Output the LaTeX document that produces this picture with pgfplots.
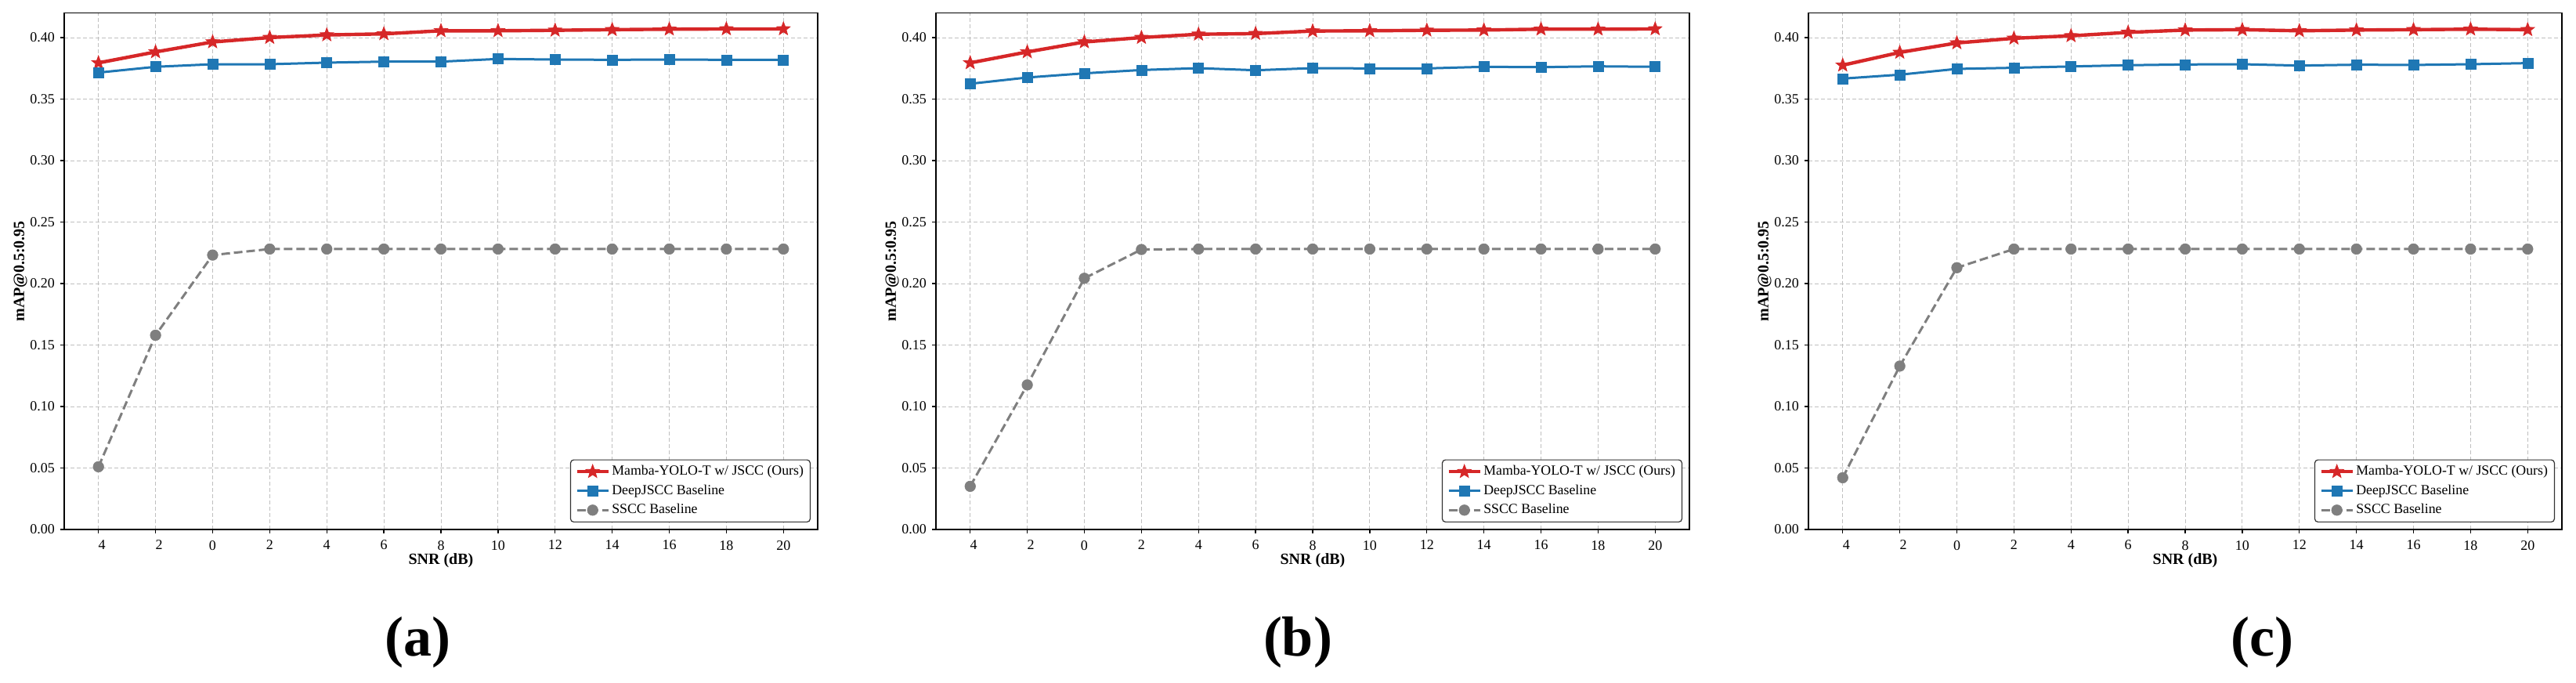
\documentclass[border=0pt]{standalone}
\usepackage{fontspec}
\setmainfont{Liberation Serif}
\usepackage{pgfplots}
\pgfplotsset{compat=1.18}
\usepackage{pgfplotstable}
\usetikzlibrary{plotmarks}

\definecolor{cred}{HTML}{D62728}
\definecolor{cblue}{HTML}{1F77B4}
\definecolor{cgray}{HTML}{7F7F7F}

\pgfdeclareplotmark{fstar}{%
  \pgfpathmoveto{\pgfpointpolar{90}{\pgfplotmarksize}}%
  \pgfpathlineto{\pgfpointpolar{126}{0.42\pgfplotmarksize}}%
  \pgfpathlineto{\pgfpointpolar{162}{\pgfplotmarksize}}%
  \pgfpathlineto{\pgfpointpolar{198}{0.42\pgfplotmarksize}}%
  \pgfpathlineto{\pgfpointpolar{234}{\pgfplotmarksize}}%
  \pgfpathlineto{\pgfpointpolar{270}{0.42\pgfplotmarksize}}%
  \pgfpathlineto{\pgfpointpolar{306}{\pgfplotmarksize}}%
  \pgfpathlineto{\pgfpointpolar{342}{0.42\pgfplotmarksize}}%
  \pgfpathlineto{\pgfpointpolar{18}{\pgfplotmarksize}}%
  \pgfpathlineto{\pgfpointpolar{54}{0.42\pgfplotmarksize}}%
  \pgfpathclose
  \pgfusepathqfillstroke}

\pgfplotstableread{
x red blue gray
-4 0.3795 0.3716 0.051
-2 0.3884 0.3763 0.158
0 0.3965 0.3784 0.2232
2 0.4001 0.3784 0.2281
4 0.4022 0.3797 0.2281
6 0.4031 0.3805 0.2281
8 0.4056 0.3805 0.2281
10 0.4056 0.3827 0.2281
12 0.4060 0.3822 0.2281
14 0.4065 0.3820 0.2281
16 0.4069 0.3822 0.2281
18 0.4071 0.3820 0.2281
20 0.4071 0.3820 0.2281
}\dataA

\pgfplotstableread{
x red blue gray
-4 0.3795 0.3625 0.0351
-2 0.3884 0.3676 0.1176
0 0.3965 0.3710 0.2043
2 0.4001 0.3737 0.2277
4 0.4028 0.3752 0.2281
6 0.4033 0.3735 0.2281
8 0.4054 0.3752 0.2281
10 0.4056 0.3750 0.2281
12 0.4060 0.3750 0.2281
14 0.4062 0.3763 0.2281
16 0.4069 0.3760 0.2281
18 0.4069 0.3767 0.2281
20 0.4071 0.3763 0.2281
}\dataB

\pgfplotstableread{
x red blue gray
-4 0.3776 0.3667 0.0421
-2 0.3880 0.3699 0.1329
0 0.3957 0.3746 0.2129
2 0.3995 0.3755 0.2281
4 0.4015 0.3766 0.2281
6 0.4043 0.3776 0.2281
8 0.4062 0.3782 0.2281
10 0.4065 0.3784 0.2281
12 0.4056 0.3773 0.2281
14 0.4062 0.3780 0.2281
16 0.4065 0.3778 0.2281
18 0.4069 0.3784 0.2281
20 0.4065 0.3793 0.2281
}\dataC

\pgfplotsset{
  panel/.style={
    scale only axis,
    width=481pt, height=329.65pt,
    anchor=south west,
    xmin=-5.2, xmax=21.2,
    ymin=0, ymax=0.42,
    xtick={-4,-2,0,2,4,6,8,10,12,14,16,18,20},
    xticklabels={\hphantom{\textendash}4,\hphantom{\textendash}2,0,2,4,6,8,10,12,14,16,18,20},
    ytick={0,0.05,0.10,0.15,0.20,0.25,0.30,0.35,0.40},
    yticklabel style={/pgf/number format/fixed, /pgf/number format/fixed zerofill, /pgf/number format/precision=2},
    /pgf/number format/assume math mode=true,
    tick label style={font=\fontsize{9}{10}\selectfont, black},
    xticklabel style={yshift=-1pt},
    tick align=outside,
    tick pos=left,
    major tick length=2.5pt,
    every tick/.style={black, line width=0.7pt},
    axis line style={black, line width=0.75pt},
    grid=major,
    major grid style={gray!50, dash pattern=on 2.5pt off 1.5pt, line width=0.5pt},
    xlabel={\textbf{SNR (dB)}},
    ylabel={\textbf{mAP@0.5:0.95}},
    label style={font=\fontsize{9.75}{11}\selectfont},
    every axis x label/.style={at={(rel axis cs:0.5,0)}, yshift=-20pt, anchor=center},
    every axis y label/.style={at={(rel axis cs:0,0.5)}, xshift=-28pt, rotate=90, anchor=center},
    legend cell align=left,
    legend style={
      at={(1,0)}, anchor=south east, xshift=-4.5pt, yshift=4.5pt,
      draw=black!80, line width=0.6pt, rounded corners=2pt,
      fill=white,
      font=\fontsize{8.9}{10}\selectfont,
      nodes={inner sep=1.2pt},
      row sep=2.2pt,
      inner xsep=3pt, inner ysep=2.5pt,
    },
    legend image code/.code={%
      \draw[mark repeat=2,mark phase=2] plot coordinates {(0pt,0pt)(10pt,0pt)(20pt,0pt)};},
  },
  redline/.style={color=cred, line width=2.2pt, mark=fstar, mark size=4.5pt, mark options={solid, fill=cred, line width=0.4pt}},
  blueline/.style={color=cblue, line width=1.5pt, mark=square*, mark size=3.25pt, mark options={solid, fill=cblue, line width=0.3pt}},
  grayline/.style={color=cgray, line width=1.5pt, dash pattern=on 5.5pt off 2.5pt, mark=*, mark size=3.4pt, mark options={solid, fill=cgray, line width=0.3pt}},
}

\begin{document}
\begin{tikzpicture}
\path[use as bounding box] (0,0) rectangle (1644.5pt,436pt);

\begin{axis}[panel, at={(41pt,98pt)}]
\addplot[redline] table[x=x, y=red] {\dataA};
\addlegendentry{Mamba-YOLO-T w/ JSCC (Ours)}
\addplot[blueline] table[x=x, y=blue] {\dataA};
\addlegendentry{DeepJSCC Baseline}
\addplot[grayline] table[x=x, y=gray] {\dataA};
\addlegendentry{SSCC Baseline}
\end{axis}

\begin{axis}[panel, at={(597.5pt,98pt)}]
\addplot[redline] table[x=x, y=red] {\dataB};
\addlegendentry{Mamba-YOLO-T w/ JSCC (Ours)}
\addplot[blueline] table[x=x, y=blue] {\dataB};
\addlegendentry{DeepJSCC Baseline}
\addplot[grayline] table[x=x, y=gray] {\dataB};
\addlegendentry{SSCC Baseline}
\end{axis}

\begin{axis}[panel, at={(1154.5pt,98pt)}]
\addplot[redline] table[x=x, y=red] {\dataC};
\addlegendentry{Mamba-YOLO-T w/ JSCC (Ours)}
\addplot[blueline] table[x=x, y=blue] {\dataC};
\addlegendentry{DeepJSCC Baseline}
\addplot[grayline] table[x=x, y=gray] {\dataC};
\addlegendentry{SSCC Baseline}
\end{axis}

\node[anchor=base, font=\fontsize{36}{40}\selectfont\bfseries] at (266.5pt,17pt) {(a)};
\node[anchor=base, font=\fontsize{36}{40}\selectfont\bfseries] at (828.5pt,17pt) {(b)};
\node[anchor=base, font=\fontsize{36}{40}\selectfont\bfseries] at (1444pt,17pt) {(c)};
\end{tikzpicture}
\end{document}
